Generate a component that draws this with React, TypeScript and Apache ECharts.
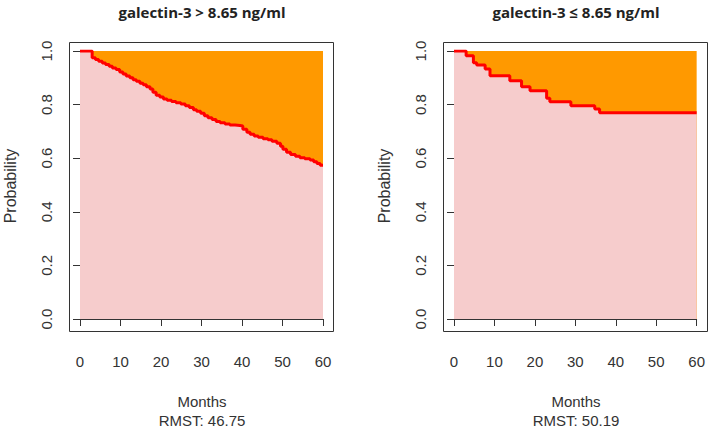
import React, { useEffect, useRef } from "react";
import * as echarts from "echarts";

const xTicks = [0, 10, 20, 30, 40, 50, 60];
const yTicks = [0, 0.2, 0.4, 0.6, 0.8, 1.0];

const titleHigh = "galectin-3 > 8.65 ng/ml";
const titleLow = "galectin-3 ≤ 8.65 ng/ml";
const rmstHigh = "RMST: 46.75";
const rmstLow = "RMST: 50.19";

const timesHigh = [0, 3.0, 3.8, 4.6, 5.5, 6.3, 7.2, 8.0, 8.9, 9.8, 10.6, 11.4, 12.3, 13.1, 13.9, 14.8, 15.6, 16.4, 17.3, 18.0, 18.8, 19.7, 20.6, 21.5, 22.6, 23.7, 24.9, 26.0, 27.0, 28.0, 28.8, 29.8, 30.7, 31.6, 32.6, 33.6, 34.6, 35.8, 37.0, 38.3, 39.5, 40.2, 41.2, 42.0, 43.0, 44.0, 45.2, 46.4, 47.4, 48.6, 49.5, 50.1, 51.0, 52.0, 53.2, 54.3, 55.5, 56.8, 57.7, 58.5, 59.3, 60];
const survHigh = [1.0, 0.975, 0.968, 0.962, 0.955, 0.950, 0.943, 0.937, 0.931, 0.922, 0.914, 0.907, 0.900, 0.893, 0.887, 0.880, 0.874, 0.867, 0.858, 0.846, 0.835, 0.828, 0.821, 0.816, 0.812, 0.807, 0.802, 0.796, 0.789, 0.781, 0.775, 0.768, 0.758, 0.751, 0.744, 0.737, 0.732, 0.728, 0.724, 0.722, 0.720, 0.708, 0.697, 0.689, 0.683, 0.678, 0.673, 0.669, 0.663, 0.656, 0.645, 0.633, 0.622, 0.614, 0.607, 0.602, 0.598, 0.593, 0.587, 0.580, 0.574, 0.572];

const timesLow = [0, 3.0, 4.8, 5.6, 7.7, 8.9, 13.8, 16.7, 18.8, 22.9, 23.7, 28.9, 34.8, 36.0, 60];
const survLow = [1.0, 0.982, 0.956, 0.948, 0.933, 0.908, 0.889, 0.867, 0.852, 0.824, 0.811, 0.796, 0.784, 0.770, 0.770];

const FONT = "'Liberation Sans', Arial, sans-serif";
const AXIS_COLOR = "#333";
const TEXT_COLOR = "#333";
const ORANGE = "#ff9900";
const PINK = "#f6cccc";
const RED = "#ff0000";

export default function App() {
  const ref = useRef<HTMLDivElement>(null);

  useEffect(() => {
    if (!ref.current) return;
    const chart = echarts.init(ref.current, null, { renderer: "svg" });

    const panels = [
      { left: 80, times: timesHigh, surv: survHigh, title: titleHigh, rmst: rmstHigh },
      { left: 454, times: timesLow, surv: survLow, title: titleLow, rmst: rmstLow },
    ];

    const grid: any[] = [];
    const xAxis: any[] = [];
    const yAxis: any[] = [];
    const series: any[] = [];
    const graphic: any[] = [];

    panels.forEach((p, i) => {
      grid.push({ left: p.left, top: 51, width: 243, height: 268, containLabel: false });
      xAxis.push({
        type: "value",
        gridIndex: i,
        min: xTicks[0],
        max: xTicks[xTicks.length - 1],
        interval: 10,
        offset: 12,
        axisLine: { show: true, lineStyle: { color: AXIS_COLOR, width: 1 } },
        axisTick: { show: true, length: 7, lineStyle: { color: AXIS_COLOR } },
        axisLabel: { show: true, margin: 23, fontSize: 15, fontFamily: FONT, color: TEXT_COLOR },
        splitLine: { show: false },
      });
      yAxis.push({
        type: "value",
        gridIndex: i,
        min: yTicks[0],
        max: yTicks[yTicks.length - 1],
        interval: 0.2,
        offset: 11,
        axisLine: { show: true, lineStyle: { color: AXIS_COLOR, width: 1 } },
        axisTick: { show: true, length: 7, lineStyle: { color: AXIS_COLOR } },
        axisLabel: {
          show: true,
          rotate: 90,
          margin: 15,
          fontSize: 15,
          fontFamily: FONT,
          color: TEXT_COLOR,
          formatter: (v: number) => v.toFixed(1),
        },
        splitLine: { show: false },
      });
      series.push({
        type: "line",
        xAxisIndex: i,
        yAxisIndex: i,
        data: [
          [xTicks[0], 1],
          [xTicks[xTicks.length - 1], 1],
        ],
        symbol: "none",
        lineStyle: { width: 0 },
        areaStyle: { color: ORANGE, opacity: 1 },
        silent: true,
        z: 1,
      });
      series.push({
        type: "line",
        xAxisIndex: i,
        yAxisIndex: i,
        step: "end",
        data: p.times.map((t, k) => [t, p.surv[k]]),
        symbol: "none",
        lineStyle: { width: 3, color: RED },
        areaStyle: { color: PINK, opacity: 1 },
        silent: true,
        z: 2,
      });

      const boxLeft = p.left - 11;
      const cx = boxLeft + 133;
      graphic.push({
        type: "rect",
        shape: { x: boxLeft + 0.5, y: 42.5, width: 264, height: 289 },
        style: { fill: "none", stroke: AXIS_COLOR, lineWidth: 1 },
        z: 10,
      });
      graphic.push({
        type: "text",
        x: cx,
        y: 12,
        style: {
          text: p.title,
          fontFamily: "'Open Sans', Lato, sans-serif",
          fontWeight: "bold",
          fontSize: 15,
          fill: "#222",
          textAlign: "center",
          textVerticalAlign: "middle",
        },
      });
      graphic.push({
        type: "text",
        x: cx,
        y: 401,
        style: {
          text: "Months",
          fontFamily: FONT,
          fontSize: 15,
          fill: TEXT_COLOR,
          textAlign: "center",
          textVerticalAlign: "middle",
        },
      });
      graphic.push({
        type: "text",
        x: cx,
        y: 420,
        style: {
          text: p.rmst,
          fontFamily: FONT,
          fontSize: 15,
          fill: TEXT_COLOR,
          textAlign: "center",
          textVerticalAlign: "middle",
        },
      });
      graphic.push({
        type: "text",
        x: boxLeft - 59,
        y: 186,
        rotation: Math.PI / 2,
        style: {
          text: "Probability",
          fontFamily: FONT,
          fontSize: 16,
          fill: TEXT_COLOR,
          textAlign: "center",
          textVerticalAlign: "middle",
        },
      });
    });

    chart.setOption({
      animation: false,
      backgroundColor: "#ffffff",
      grid,
      xAxis,
      yAxis,
      series,
      graphic,
    });

    return () => chart.dispose();
  }, []);

  return (
    <div
      ref={ref}
      style={{ position: "absolute", left: 0, top: 0, width: 708, height: 430 }}
    />
  );
}
